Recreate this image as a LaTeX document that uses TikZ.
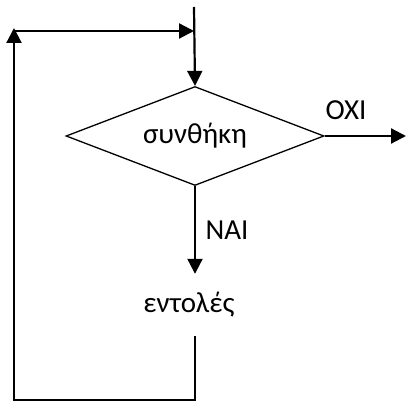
\documentclass[tikz,border=0pt]{standalone}
\usepackage{fontspec}
\setmainfont{Carlito}
\usepackage{tikz}
\usetikzlibrary{shapes.geometric, arrows.meta}

\begin{document}
\begin{tikzpicture}[x=1pt, y=-1pt,
            dec/.style={diamond, draw, line width=1.3pt, inner sep=0pt, aspect=2.6,
                        minimum width=258pt, minimum height=99pt, font=\fontsize{29}{33}\selectfont},
            txt/.style={font=\fontsize{29}{33}\selectfont, inner sep=0pt},
            arr/.style={-{Triangle[length=15pt, width=15pt]}, line width=2.2pt}
          ]
          \useasboundingbox (0,0) rectangle (406,403);
          \coordinate (start) at (194, 7);
          \node[dec] (cond) at (195, 136) {συνθήκη};
          \node[txt, minimum height=62pt] (body) at (189, 305) {εντολές};
          \coordinate (out)  at (406, 136);
          \coordinate (bl)   at (14, 400);
          \coordinate (tl)   at (14, 28);
          \coordinate (join) at (194, 31);
          \draw[arr] (start) -- (cond.north);
          \draw[arr] (cond.east) -- (out);
          \draw[arr] (cond.south) -- (cond.south |- body.north);
          \draw[arr] (cond.south |- body.south) |- (bl) -- (tl);
          \draw[arr] (tl |- join) -- (join);
          \node[txt] (no)  at (346, 110) {ΟΧΙ};
          \node[txt] (yes) at (227, 230) {ΝΑΙ};
        \end{tikzpicture}
\end{document}
